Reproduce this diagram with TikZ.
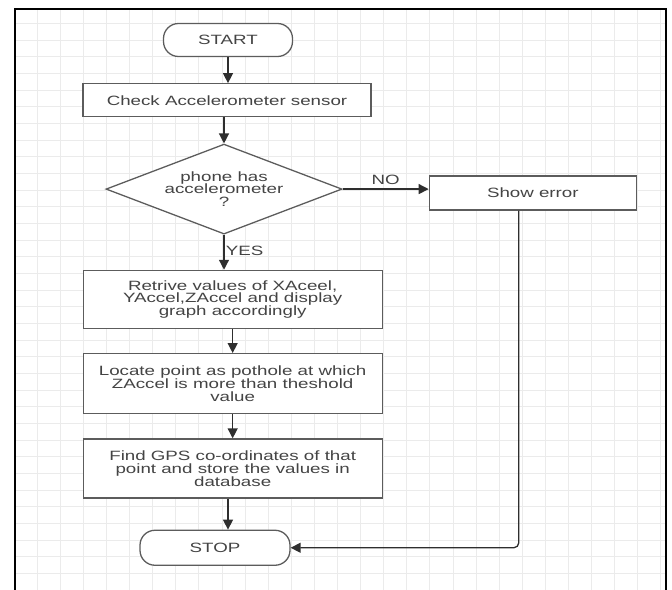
\documentclass[tikz,border=0pt]{standalone}
\usepackage{fontspec}
\setmainfont{Liberation Sans}[FakeStretch=1.39]
\usepackage{xcolor}
\usepackage{tikz}
\usetikzlibrary{positioning,shapes.geometric,arrows.meta,calc}
\definecolor{gridgray}{HTML}{EBEBEB}
\definecolor{linegray}{HTML}{5C5C5C}
\definecolor{textgray}{HTML}{444444}
\definecolor{arrowgray}{HTML}{2E2E2E}

\begin{document}
\begin{tikzpicture}[
    x=0.03cm, y=-0.03cm,
    every node/.style={font=\fontsize{11.5}{10.9}\selectfont, text=textgray},
    term/.style={draw=linegray, fill=white, line width=1.1pt, rounded corners=0.45cm,
                 minimum width=3.87cm, minimum height=0.99cm, inner sep=0pt},
    box/.style={draw=linegray, fill=white, line width=1.1pt, minimum width=8.97cm,
                align=center, inner sep=0pt},
    decide/.style={diamond, aspect=2.6, draw=linegray, fill=white, line width=1.1pt,
                   minimum width=7.08cm, minimum height=2.7cm, align=center, inner sep=0pt},
    arr/.style={-{Triangle[length=8.5pt,width=8.5pt]}, line width=1.1pt, draw=arrowgray},
  ]
  \useasboundingbox (0,0) rectangle (672,590);

  % grid paper and frame
  \foreach \k in {0,...,27}
    \draw[gridgray, line width=0.5pt] ({37+23.1*\k},9) -- ({37+23.1*\k},590);
  \foreach \k in {1,...,35}
    \draw[gridgray, line width=0.5pt] (16,{6.6+16.67*\k}) -- (665,{6.6+16.67*\k});
  \draw[line width=2.2pt] (15,590) -- (15,9) -- (666,9) -- (666,590);

  % main column
  \node[term] (start) at (228,40) {START};
  \node[box, minimum width=8.64cm, minimum height=0.99cm, below=0.78cm of start,
        xshift=-0.03cm] (check) {Check Accelerometer sensor};
  \node[decide, below=0.78cm of check, xshift=-0.09cm] (dec) {phone has\\accelerometer\\?};
  \node[box, minimum width=6.21cm, minimum height=1.02cm, right=2.58cm of dec,
        yshift=-0.12cm] (err) {Show error};
  \node[box, minimum height=1.74cm, below=1.05cm of dec, xshift=0.26cm] (vals)
       {Retrive values of XAceel,\\YAccel,ZAccel and display\\graph accordingly};
  \node[box, minimum height=1.8cm, below=0.72cm of vals] (locate)
       {Locate point as pothole at which\\ZAccel is more than theshold\\value};
  \node[box, minimum height=1.77cm, below=0.72cm of locate] (gps)
       {Find GPS co-ordinates of that\\point and store the values in\\database};
  \node[term, minimum width=4.5cm, minimum height=1.05cm, below=0.93cm of gps,
        xshift=-0.53cm] (stop) {STOP};

  % arrows
  \draw[arr] (start.south) -- (start.south |- check.north);
  \draw[arr] (check.south -| dec.north) -- (dec.north);
  \draw[arr] (dec.south) -- (dec.south |- vals.north)
    node[pos=0.45, right, inner sep=1pt] {YES};
  \draw[arr] (dec.east) -- (err.west |- dec.east) node[midway, above] {NO};
  \draw[arr] (vals) -- (locate);
  \draw[arr] (locate) -- (gps);
  \draw[arr] (gps.south -| start) -- (stop.north -| start);
  \draw[arr, rounded corners=0.15cm] ([xshift=-0.42cm]err.south) |- (stop.east);
\end{tikzpicture}
\end{document}
